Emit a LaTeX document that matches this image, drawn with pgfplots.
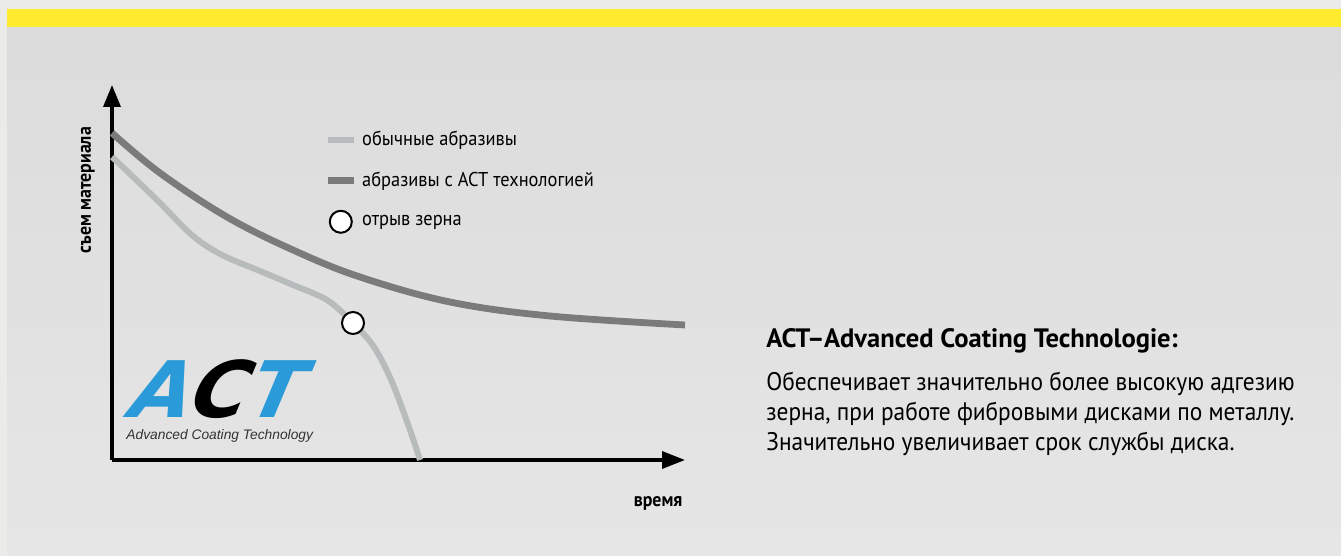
\documentclass[border=0pt]{standalone}
\usepackage{fontspec}
\setmainfont{PT Sans}[FakeStretch=0.92]
\newfontfamily\headfont{PT Sans}
\newfontfamily\logofont{DejaVu Sans}[FakeSlant=0.42]
\newfontfamily\logosub{Liberation Sans}
\usepackage{pgfplots}
\pgfplotsset{compat=1.18}
\usetikzlibrary{arrows.meta}

\definecolor{bgtop}{HTML}{DBDBDB}
\definecolor{bgbot}{HTML}{E6E6E6}
\definecolor{margin}{HTML}{EBEBEA}
\definecolor{band}{HTML}{FFEB2E}
\definecolor{actgray}{HTML}{7B7B7C}
\definecolor{plaingray}{HTML}{B8BBBB}
\definecolor{actblue}{HTML}{2A9BD8}

\begin{document}
\begin{tikzpicture}
% page: 1341 x 556 px, 1px = 0.5pt
\useasboundingbox (0,0) rectangle (670.5pt,278pt);
\shade[top color=bgtop, bottom color=bgbot] (0,0) rectangle (670.5pt,278pt);
\fill[margin] (0,0) rectangle (3.5pt,278pt);
\fill[margin] (0,273.5pt) rectangle (670.5pt,278pt);
\fill[band] (3.5pt,264.5pt) rectangle (670.5pt,273.5pt);

\begin{axis}[
    at={(56pt,48pt)}, anchor=south west,
    scale only axis,
    width=286.5pt, height=187.5pt,
    xmin=0, xmax=573, ymin=0, ymax=375,
    axis lines=left,
    axis line style={line width=1.7pt, black},
    x axis line style={-{Triangle[length=11.5pt,width=8.5pt]}},
    y axis line style={-{Triangle[length=11pt,width=8.5pt]}},
    xtick=\empty, ytick=\empty,
    clip=false,
    xlabel={\bfseries время},
    ylabel={\bfseries съем материала},
    label style={font=\fontsize{9.7}{12}\selectfont},
    xlabel style={at={(axis description cs:0.953,-0.115)}, anchor=center},
    ylabel style={at={(axis description cs:-0.042,0.72)}, anchor=center},
    legend style={at={(0.37,0.887)}, anchor=north west, draw=none, fill=none,
        font=\fontsize{10}{12}\selectfont, column sep=2.5pt, row sep=8.5pt,
        inner sep=0pt, nodes={inner sep=0pt}},
    legend cell align=left,
]
\addplot[plaingray, line width=3pt, smooth, tension=0.55,
    legend image code/.code={\path[draw=none, fill=none] (0pt,-6pt) rectangle (13pt,6pt);
        \draw[plaingray, line width=3pt] (0pt,0pt) -- (13pt,0pt);}]
    coordinates {
    (0,303) (15,289) (48,257) (81,224) (110,205) (148,189) (181,175)
    (215,160) (241,137) (262,113) (280,78) (298,30) (308,0)
};
\addlegendentry{обычные абразивы}
\addplot[actgray, line width=3.4pt, smooth, tension=0.6,
    legend image code/.code={\path[draw=none, fill=none] (0pt,-6pt) rectangle (13pt,6pt);
        \draw[actgray, line width=3.4pt] (0pt,0pt) -- (13pt,0pt);}]
    coordinates {
    (0,327) (48,287) (115,243) (181,210) (248,183) (338,158) (438,144) (573,135)
};
\addlegendentry{абразивы с ACT технологией}
\addplot[only marks, mark=*, mark size=5.5pt,
    mark options={fill=white, draw=black, line width=1pt},
    legend image code/.code={\path[draw=none, fill=none] (0pt,-6pt) rectangle (13pt,6pt);
        \draw[black, fill=white, line width=1pt] (6.5pt,0pt) circle (5.5pt);}]
    coordinates {(241,137)};
\addlegendentry{отрыв зерна}
\end{axis}

% ACT logo
\node[anchor=base west, inner sep=0pt, text depth=0pt,
    font=\logofont\bfseries\fontsize{39}{39}\selectfont]
    at (61pt,69pt) {\textcolor{actblue}{A}\textcolor{black}{C}\textcolor{actblue}{T}};
\node[anchor=base west, inner sep=0pt, text=black!80,
    font=\logosub\itshape\fontsize{6.9}{8}\selectfont]
    at (63pt,58pt) {Advanced Coating Technology};

% description
\node[anchor=base west, inner sep=0pt, font=\headfont\bfseries\fontsize{13.3}{15}\selectfont]
    at (383pt,104pt) {ACT–Advanced Coating Technologie:};
\node[anchor=base west, inner sep=0pt, font=\fontsize{12.7}{15}\selectfont]
    at (383pt,82.5pt) {Обеспечивает значительно более высокую адгезию};
\node[anchor=base west, inner sep=0pt, font=\fontsize{12.7}{15}\selectfont]
    at (383pt,67.5pt) {зерна, при работе фибровыми дисками по металлу.};
\node[anchor=base west, inner sep=0pt, font=\fontsize{12.7}{15}\selectfont]
    at (383pt,52.5pt) {Значительно увеличивает срок службы диска.};
\end{tikzpicture}
\end{document}
